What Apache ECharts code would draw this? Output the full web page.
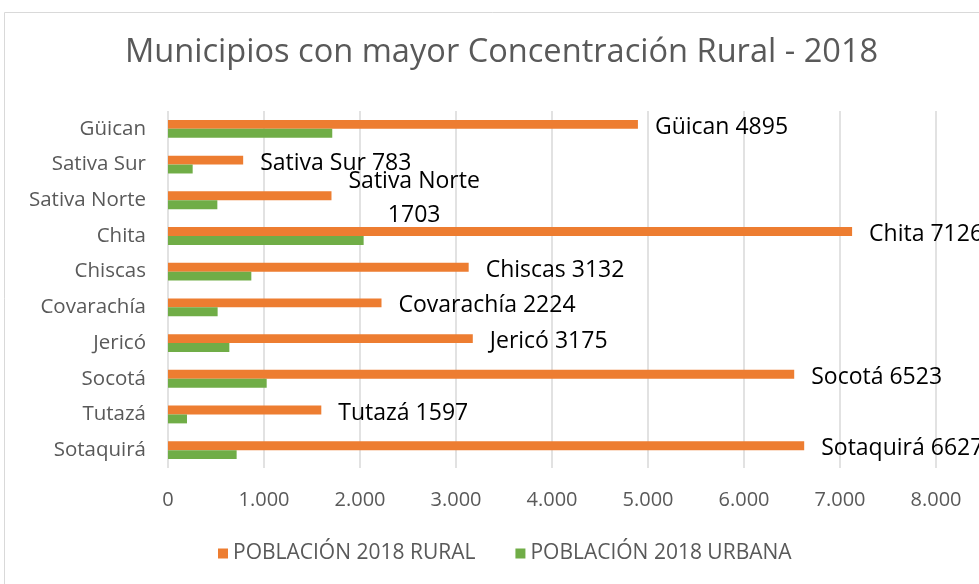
<!DOCTYPE html>
<html><head><meta charset="utf-8">
<script src="https://cdn.jsdelivr.net/npm/echarts@6/dist/echarts.min.js"></script>
<style>html,body{margin:0;padding:0;background:#fff}#c{width:979px;height:584px}</style>
</head><body><div id="c"></div>
<script>
const categories = ['Güican','Sativa Sur','Sativa Norte','Chita','Chiscas','Covarachía','Jericó','Socotá','Tutazá','Sotaquirá'];
const rural = [4895, 783, 1703, 7126, 3132, 2224, 3175, 6523, 1597, 6627];
const urbana = [1711, 257, 514, 2038, 868, 517, 639, 1028, 198, 715];
const xTicks = [0, 8000, 1000];
const seriesNames = ['POBLACIÓN 2018 RURAL', 'POBLACIÓN 2018 URBANA'];
const titleText = 'Municipios con mayor Concentración Rural - 2018';

const FONT = 'Open Sans';
const chart = echarts.init(document.getElementById('c'));
chart.setOption({
  backgroundColor: '#fff',
  animation: false,
  textStyle: { fontFamily: FONT },
  title: {
    text: titleText, left: 120, top: 31,
    textStyle: { fontFamily: FONT, fontSize: 32.6, fontWeight: 'normal', color: '#595959' }
  },
  graphic: [{
    type: 'rect', silent: true, z: -1,
    shape: { x: 4.5, y: 12.5, width: 1100, height: 700 },
    style: { fill: 'none', stroke: '#d9d9d9', lineWidth: 1 }
  }],
  legend: {
    left: 213, top: 538, itemWidth: 10, itemHeight: 10, itemGap: 40,
    icon: 'rect',
    textStyle: { fontFamily: FONT, fontSize: 21, color: '#595959' },
    data: seriesNames
  },
  grid: { left: 168, right: 43, top: 111, bottom: 116, containLabel: false },
  xAxis: {
    type: 'value', min: xTicks[0], max: xTicks[1], interval: xTicks[2],
    axisLine: { show: false }, axisTick: { show: false },
    splitLine: { lineStyle: { color: '#d9d9d9', width: 1.5 } },
    axisLabel: {
      margin: 22, fontFamily: FONT, fontSize: 20, color: '#595959',
      formatter: v => v === 0 ? '0' : v.toLocaleString('de-DE')
    }
  },
  yAxis: {
    type: 'category', data: categories, inverse: true,
    axisLine: { show: false }, axisTick: { show: false },
    axisLabel: { margin: 22, fontFamily: FONT, fontSize: 20.5, color: '#595959' }
  },
  series: [
    {
      name: seriesNames[0], type: 'bar', data: rural,
      itemStyle: { color: '#ED7D31' },
      barGap: '0%', barCategoryGap: '50%',
      label: {
        show: true, position: 'right', distance: 17, offset: [0, 3],
        fontFamily: FONT, fontSize: 23, color: '#000',
        formatter: p => p.name === 'Sativa Norte'
          ? '{c|' + p.name + '}\n{c|' + p.value + '}'
          : p.name + ' ' + p.value,
        rich: { c: { align: 'center', fontFamily: FONT, fontSize: 23, color: '#000', lineHeight: 34 } }
      }
    },
    {
      name: seriesNames[1], type: 'bar', data: urbana,
      itemStyle: { color: '#70AD47' },
      barGap: '0%', barCategoryGap: '50%'
    }
  ]
});
</script>
</body></html>
